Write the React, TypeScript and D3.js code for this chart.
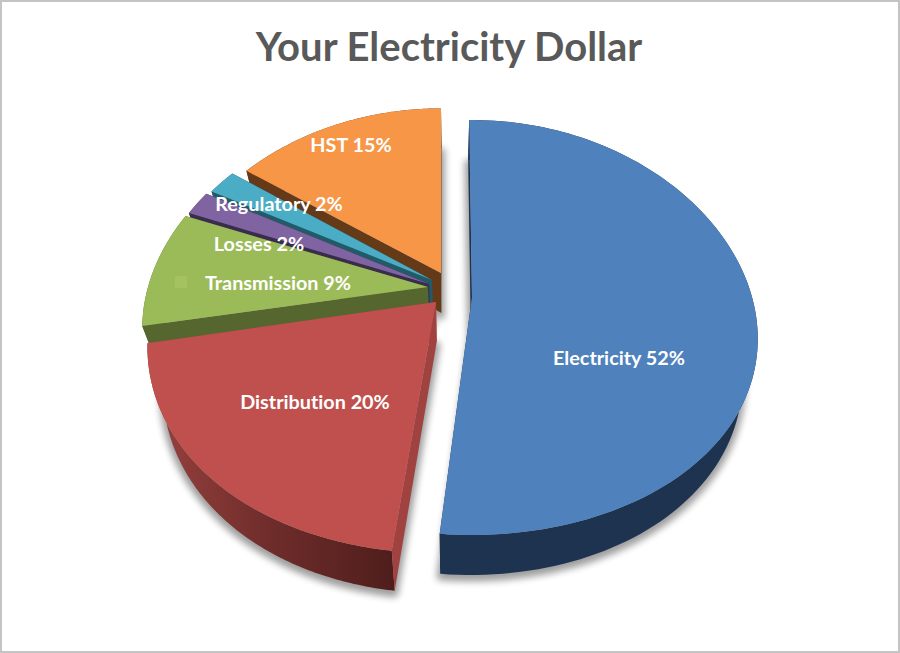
import React from 'react';
import * as d3 from 'd3';

const categories = ['Electricity', 'Distribution', 'Transmission', 'Losses', 'Regulatory', 'HST'];
const shares = [52, 20, 9, 2, 2, 15];

const topColors = ['#4f81bd', '#c0504d', '#9bbb59', '#8064a2', '#4bacc6', '#f79646'];
const wallColors = ['#1d3350', '#a04340', '#55662e', '#392c4c', '#235a68', '#653a18'];
const rimColors = ['#1d3350', 'url(#redRim)', '#55662e', '#392c4c', '#235a68', '#653a18'];

// each slice is pulled out by hand in the original, so every one has its own apex and scale
const apexes = [[472, 297], [436, 302], [428, 287], [429, 284], [432, 280], [441, 273]];
const radiusScale = [[1, 1], [1.01, 1.055], [1, 1], [0.99, 1], [0.985, 0.97], [0.96, 0.93]];
const startTrimDeg = [-0.7, 0, 0, 0, 0, 0];
const endTrimDeg = [1.9, 0, 0, 0.4, 0, 0];
const labelSpots = [[619, 358], [315, 402], [278, 283], [259, 244], [279, 204], [351, 145]];

const width = 900;
const height = 653;
const rx = 280;
const ry = 203;
const kx = 0.2;
const ky = 0.147;
const depth = 40;
const vanishX = 450;
const shrink = 0.95;
const labelFont = "Lato, 'Open Sans', sans-serif";

type Pt = [number, number];

const project = (i: number, a: number): Pt => {
  const u = Math.sin(a);
  const v = -Math.cos(a);
  return [
    apexes[i][0] + (rx * radiusScale[i][0] * u) / (1 - kx * v),
    apexes[i][1] + (ry * radiusScale[i][1] * v) / (1 - ky * v),
  ];
};

const drop = (p: Pt): Pt => [vanishX + (p[0] - vanishX) * shrink, p[1] + depth];

const line = d3.line<Pt>();
const closed = (pts: Pt[]) => (line(pts) || '') + 'Z';

const pieSlices = d3.pie<number>().sort(null)(shares);

const arcPoints = (i: number): Pt[] => {
  const start = pieSlices[i].startAngle + (startTrimDeg[i] * Math.PI) / 180;
  const end = pieSlices[i].endAngle - (endTrimDeg[i] * Math.PI) / 180;
  return d3.range(0, 121).map(t => project(i, start + ((end - start) * t) / 120));
};

const App = () => {
  // far slices first, the big front ones last
  const order = [5, 4, 3, 2, 1, 0];

  return (
    <svg
      width={width}
      height={height}
      viewBox={`0 0 ${width} ${height}`}
      style={{ position: 'absolute', left: 0, top: 0, background: '#fff' }}
    >
      <defs>
        <linearGradient id="redRim" gradientUnits="userSpaceOnUse" x1="160" x2="400" y1="0" y2="0">
          <stop offset="0" stopColor="#94403d" />
          <stop offset="0.45" stopColor="#6f2d2b" />
          <stop offset="1" stopColor="#4d1d1b" />
        </linearGradient>
        <filter id="softShadow" x="-15%" y="-15%" width="130%" height="130%">
          <feGaussianBlur stdDeviation="3.5" />
        </filter>
      </defs>

      <rect x={1} y={1} width={width - 2} height={height - 2} fill="#fff" stroke="#c4c4c4" strokeWidth={2} />

      <text
        x={449}
        y={61}
        textAnchor="middle"
        fontFamily={labelFont}
        fontWeight={700}
        fontSize={40}
        fill="#595959"
        style={{ fontVariantLigatures: 'none' }}
      >
        Your Electricity Dollar
      </text>

      {/* the shadow comes from the base of each slice, so it starts one depth below the top */}
      <g filter="url(#softShadow)" transform="translate(0,3)" opacity={0.38}>
        {order.map(i => (
          <path
            key={categories[i]}
            d={closed([drop(apexes[i] as Pt), ...arcPoints(i).map(drop)])}
            fill="#000"
            stroke="#000"
            strokeWidth={7}
            strokeLinejoin="round"
          />
        ))}
      </g>

      {order.map(i => {
        const arcPts = arcPoints(i);
        const apex = apexes[i] as Pt;
        const first = arcPts[0];
        const last = arcPts[arcPts.length - 1];
        return (
          <g key={categories[i]}>
            <path d={closed([...arcPts, ...arcPts.map(drop).reverse()])} fill={rimColors[i]} />
            <path d={closed([apex, last, drop(last), drop(apex)])} fill={wallColors[i]} />
            <path d={closed([apex, first, drop(first), drop(apex)])} fill={wallColors[i]} />
            <path d={closed([apex, ...arcPts])} fill={topColors[i]} />
          </g>
        );
      })}

      <rect x={175} y={276} width={12} height={12} fill="#a5c261" />

      {categories.map((c, i) => (
        <text
          key={c}
          x={labelSpots[i][0]}
          y={labelSpots[i][1]}
          dy="0.35em"
          textAnchor="middle"
          fontFamily={labelFont}
          fontWeight={700}
          fontSize={19.8}
          fill="#fff"
          style={{ fontVariantLigatures: 'none' }}
        >
          {`${c} ${shares[i]}%`}
        </text>
      ))}
    </svg>
  );
};

export default App;
